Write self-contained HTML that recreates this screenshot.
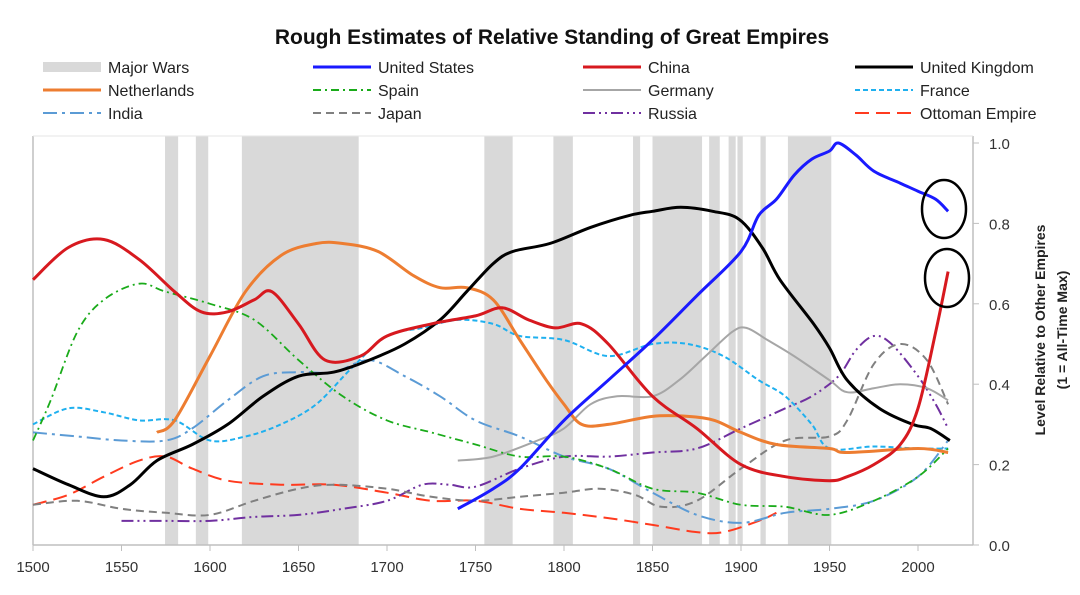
<!DOCTYPE html>
<html><head><meta charset="utf-8">
<style>
body{margin:0;background:#fff;width:1080px;height:590px;overflow:hidden;font-family:"Liberation Sans",sans-serif;}
svg text{font-family:"Liberation Sans",sans-serif;}
</style></head>
<body>
<svg id="chart" width="1080" height="590" viewBox="0 0 1080 590" xmlns="http://www.w3.org/2000/svg">
<text x="552" y="44" text-anchor="middle" font-size="21" font-weight="bold" fill="#111">Rough Estimates of Relative Standing of Great Empires</text>
<g id="legend"></g>
<g id="wars"></g>
<g id="axes"></g>
<g id="lines"></g>
<ellipse cx="944" cy="209" rx="22" ry="29" fill="none" stroke="#000" stroke-width="2.5"/>
<ellipse cx="947" cy="278" rx="22" ry="29" fill="none" stroke="#000" stroke-width="2.5"/>
<g transform="translate(1045,330) rotate(-90)">
<text x="0" y="0" text-anchor="middle" font-size="14" font-weight="bold" fill="#222">Level Relative to Other Empires</text>
<text x="0" y="22" text-anchor="middle" font-size="14" font-weight="bold" fill="#222">(1 = All-Time Max)</text>
</g>
</svg>
<script>
const NS='http://www.w3.org/2000/svg';
const xTicks=[1500,1550,1600,1650,1700,1750,1800,1850,1900,1950,2000];
const yTicks=[0,0.2,0.4,0.6,0.8,1.0];
const yTickLabels=['0.0','0.2','0.4','0.6','0.8','1.0'];
const warStarts=[1574.6,1592,1618,1755,1794,1839,1850,1882,1893,1898,1911,1926.5];
const warEnds=[1582,1599,1684,1771,1805,1843,1878,1888,1897,1901,1914,1951];

const usYears=[1740,1760,1775,1800,1825,1850,1875,1900,1910,1920,1930,1940,1950,1955,1965,1975,1990,2000,2010,2017];
const usVals=[0.09,0.14,0.19,0.31,0.41,0.51,0.62,0.73,0.82,0.86,0.92,0.96,0.98,1.0,0.97,0.93,0.9,0.88,0.86,0.83];
const chinaYears=[1500,1520,1540,1560,1580,1595,1610,1625,1635,1650,1665,1685,1700,1725,1750,1765,1780,1795,1810,1825,1850,1875,1900,1925,1950,1960,1975,1990,2000,2010,2017];
const chinaVals=[0.66,0.74,0.76,0.71,0.63,0.58,0.58,0.61,0.63,0.55,0.46,0.47,0.52,0.55,0.57,0.59,0.56,0.54,0.55,0.50,0.37,0.29,0.20,0.17,0.16,0.17,0.20,0.25,0.34,0.53,0.68];
const ukYears=[1500,1520,1540,1555,1570,1590,1610,1630,1650,1670,1690,1710,1730,1745,1760,1771,1792,1815,1837,1850,1866,1884,1899,1912,1922,1941,1950,1960,1978,1997,2007,2018];
const ukVals=[0.19,0.15,0.12,0.15,0.21,0.25,0.30,0.37,0.42,0.43,0.46,0.50,0.56,0.63,0.70,0.73,0.75,0.79,0.82,0.83,0.84,0.83,0.81,0.74,0.66,0.55,0.49,0.41,0.34,0.30,0.29,0.26];
const nlYears=[1570,1580,1600,1620,1640,1660,1675,1695,1715,1730,1745,1760,1775,1790,1800,1810,1825,1850,1870,1885,1900,1920,1950,1960,2000,2017];
const nlVals=[0.28,0.31,0.47,0.63,0.72,0.75,0.75,0.73,0.67,0.64,0.64,0.61,0.51,0.41,0.35,0.30,0.30,0.32,0.32,0.31,0.28,0.25,0.24,0.23,0.24,0.23];
const spainYears=[1500,1510,1525,1540,1560,1575,1600,1625,1650,1675,1700,1725,1750,1775,1800,1825,1850,1875,1900,1925,1950,1975,2000,2017];
const spainVals=[0.26,0.36,0.53,0.61,0.65,0.63,0.60,0.56,0.46,0.37,0.31,0.28,0.25,0.22,0.22,0.19,0.14,0.13,0.10,0.095,0.075,0.11,0.17,0.24];
const deYears=[1740,1760,1785,1800,1815,1830,1850,1865,1880,1895,1903,1915,1930,1950,1960,1975,1990,2005,2017];
const deVals=[0.21,0.22,0.26,0.29,0.35,0.37,0.37,0.41,0.47,0.53,0.54,0.51,0.47,0.41,0.38,0.39,0.40,0.39,0.36];
const frYears=[1500,1520,1540,1560,1580,1600,1620,1640,1660,1680,1700,1720,1740,1760,1775,1800,1825,1850,1870,1890,1910,1925,1940,1950,1975,2000,2017];
const frVals=[0.30,0.34,0.33,0.31,0.31,0.26,0.27,0.30,0.35,0.44,0.52,0.54,0.56,0.55,0.52,0.51,0.47,0.50,0.50,0.47,0.41,0.37,0.30,0.24,0.245,0.24,0.24];
const inYears=[1500,1525,1550,1575,1590,1610,1630,1650,1670,1690,1710,1730,1750,1775,1800,1825,1850,1875,1900,1925,1950,1975,2000,2017];
const inVals=[0.28,0.27,0.26,0.26,0.29,0.36,0.42,0.43,0.43,0.46,0.42,0.37,0.31,0.27,0.22,0.19,0.13,0.075,0.055,0.08,0.09,0.11,0.17,0.26];
const jpYears=[1500,1525,1550,1575,1600,1625,1650,1670,1700,1725,1750,1775,1800,1820,1840,1855,1875,1900,1925,1950,1960,1975,1990,2005,2017];
const jpVals=[0.10,0.11,0.09,0.08,0.075,0.11,0.14,0.15,0.14,0.12,0.11,0.12,0.13,0.14,0.125,0.095,0.11,0.19,0.26,0.27,0.31,0.45,0.50,0.46,0.35];
const ruYears=[1550,1575,1600,1625,1650,1675,1700,1720,1735,1750,1775,1800,1825,1850,1875,1900,1925,1940,1955,1965,1975,1985,2000,2010,2017];
const ruVals=[0.06,0.06,0.06,0.07,0.075,0.09,0.11,0.15,0.15,0.145,0.19,0.22,0.22,0.23,0.24,0.29,0.34,0.37,0.42,0.485,0.52,0.50,0.42,0.35,0.29];
const otYears=[1500,1520,1540,1560,1575,1590,1610,1640,1670,1700,1725,1750,1775,1800,1825,1850,1875,1890,1910,1920];
const otVals=[0.10,0.125,0.17,0.21,0.22,0.19,0.16,0.15,0.15,0.13,0.11,0.11,0.09,0.08,0.067,0.05,0.032,0.032,0.06,0.08];

const L=33,R=973,T=136,B=545;
function xs(y){return 33+(y-1500)*1.77;}
function ys(v){return 545-v*402;}
function el(tag,attrs,parent){const e=document.createElementNS(NS,tag);for(const k in attrs)e.setAttribute(k,attrs[k]);parent.appendChild(e);return e;}

const wars=document.getElementById('wars');
for(let i=0;i<warStarts.length;i++){
  const r=el('rect',{x:xs(warStarts[i]),y:T,width:xs(warEnds[i])-xs(warStarts[i]),height:B-T,fill:'#d9d9d9'},wars);
  
  
}
const axes=document.getElementById('axes');
el('line',{x1:L,y1:T,x2:L,y2:B,stroke:'#bfbfbf','stroke-width':1.5},axes);
el('line',{x1:L,y1:B,x2:R,y2:B,stroke:'#bfbfbf','stroke-width':1.5},axes);
el('line',{x1:R,y1:T,x2:R,y2:B,stroke:'#bfbfbf','stroke-width':1.5},axes);
el('line',{x1:L,y1:T,x2:R,y2:T,stroke:'#e6e6e6','stroke-width':1},axes);
xTicks.forEach(t=>{
  el('line',{x1:xs(t),y1:B,x2:xs(t),y2:B+6,stroke:'#bfbfbf'},axes);
  const tx=el('text',{x:xs(t),y:B+27,'text-anchor':'middle','font-size':15,fill:'#333'},axes);
  tx.textContent=t;
  
  
});
yTicks.forEach((t,i)=>{
  el('line',{x1:R,y1:ys(t),x2:R+6,y2:ys(t),stroke:'#bfbfbf'},axes);
  const tx=el('text',{x:R+16,y:ys(t)+6,'font-size':15,fill:'#333'},axes);
  tx.textContent=yTickLabels[i];
  
  
});

function smoothPath(xsArr,vs){
  const p=xsArr.map((x,i)=>[xs(x),ys(vs[i])]);
  let d='M'+p[0][0].toFixed(1)+','+p[0][1].toFixed(1);
  for(let i=0;i<p.length-1;i++){
    const p0=p[i-1]||p[i],p1=p[i],p2=p[i+1],p3=p[i+2]||p2;
    const c1=[p1[0]+(p2[0]-p0[0])/6,p1[1]+(p2[1]-p0[1])/6];
    const c2=[p2[0]-(p3[0]-p1[0])/6,p2[1]-(p3[1]-p1[1])/6];
    d+='C'+c1.map(v=>v.toFixed(1)).join(',')+' '+c2.map(v=>v.toFixed(1)).join(',')+' '+p2[0].toFixed(1)+','+p2[1].toFixed(1);
  }
  return d;
}
const series=[
 ['ottoman-empire-line',otYears,otVals,'#ff3b1f',2,'14 7'],
 ['russia-line',ruYears,ruVals,'#7030a0',2,'12 4 2 4 2 4'],
 ['japan-line',jpYears,jpVals,'#808080',2,'8 5'],
 ['india-line',inYears,inVals,'#5b9bd5',2,'14 5 3 5'],
 ['france-line',frYears,frVals,'#1fb0ef',2,'5 3'],
 ['germany-line',deYears,deVals,'#a6a6a6',2,''],
 ['spain-line',spainYears,spainVals,'#1aab1a',1.8,'8 4 2 4'],
 ['netherlands-line',nlYears,nlVals,'#ed7d31',3,''],
 ['united-kingdom-line',ukYears,ukVals,'#000000',3,''],
 ['china-line',chinaYears,chinaVals,'#d7191f',3,''],
 ['united-states-line',usYears,usVals,'#1a1aff',3,'']
];
const lines=document.getElementById('lines');
series.forEach(s=>{
  const p=el('path',{d:smoothPath(s[1],s[2]),fill:'none',stroke:s[3],'stroke-width':s[4],'stroke-linejoin':'round'},lines);
  if(s[5])p.setAttribute('stroke-dasharray',s[5]);
  
  
});

const legendItems=[
 ['Major Wars','#d9d9d9',10,'',0,0],['United States','#1a1aff',3,'',1,0],['China','#d7191f',3,'',2,0],['United Kingdom','#000',3,'',3,0],
 ['Netherlands','#ed7d31',3,'',0,1],['Spain','#1aab1a',2,'8 4 2 4',1,1],['Germany','#a6a6a6',2,'',2,1],['France','#1fb0ef',2,'5 3',3,1],
 ['India','#5b9bd5',2,'14 5 3 5',0,2],['Japan','#808080',2,'8 5',1,2],['Russia','#7030a0',2,'12 4 2 4 2 4',2,2],['Ottoman Empire','#ff3b1f',2,'14 7',3,2]
];
const colX=[43,313,583,855];
const rowY=[67,90,113];
const lg=document.getElementById('legend');
legendItems.forEach(it=>{
  const g=el('g',{},lg);
  
  
  const x=colX[it[4]],y=rowY[it[5]];
  const ln=el('line',{x1:x,y1:y,x2:x+58,y2:y,stroke:it[1],'stroke-width':it[2]},g);
  if(it[3])ln.setAttribute('stroke-dasharray',it[3]);
  const t=el('text',{x:x+65,y:y+6,'font-size':16,fill:'#222'},g);
  t.textContent=it[0];
});
</script>
</body></html>
